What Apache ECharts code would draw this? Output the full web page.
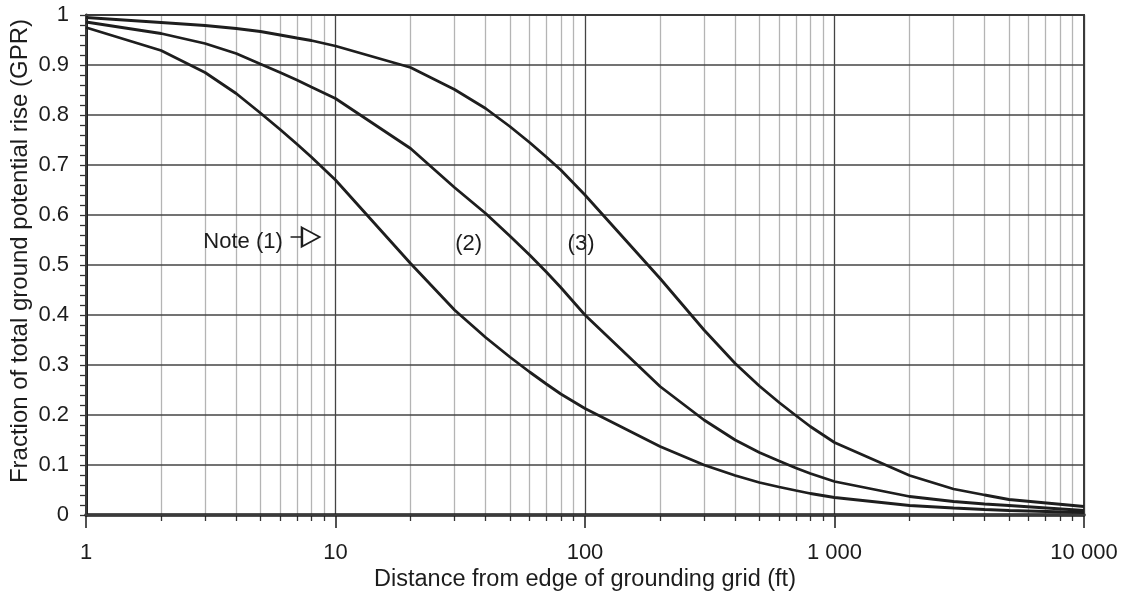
<!DOCTYPE html>
<html>
<head>
<meta charset="utf-8">
<script src="https://cdn.jsdelivr.net/npm/echarts@6/dist/echarts.min.js"></script>
<style>html,body{margin:0;padding:0;background:#fff}#c{width:1122px;height:596px}</style>
</head>
<body>
<div id="c"></div>
<script>
const distances = [1,2,3,4,5,6,7,8,10,20,30,40,50,60,70,80,100,200,300,400,500,600,700,800,1000,2000,3000,4000,5000,10000];
const curve1 = [0.975,0.929,0.885,0.843,0.804,0.771,0.742,0.716,0.670,0.503,0.410,0.355,0.316,0.286,0.262,0.242,0.213,0.137,0.100,0.079,0.065,0.056,0.049,0.043,0.035,0.019,0.014,0.011,0.009,0.005];
const curve2 = [0.986,0.963,0.943,0.923,0.902,0.885,0.870,0.856,0.833,0.733,0.655,0.603,0.558,0.520,0.486,0.455,0.400,0.257,0.190,0.150,0.125,0.108,0.094,0.083,0.067,0.037,0.027,0.022,0.019,0.009];
const curve3 = [0.995,0.985,0.979,0.973,0.967,0.960,0.954,0.949,0.938,0.895,0.851,0.813,0.777,0.745,0.716,0.690,0.640,0.473,0.370,0.303,0.258,0.225,0.199,0.177,0.145,0.079,0.052,0.040,0.031,0.017];
const majorX = [1,10,100,1000,10000];
const minorX = [2,3,4,5,6,7,8,9,20,30,40,50,60,70,80,90,200,300,400,500,600,700,800,900,2000,3000,4000,5000,6000,7000,8000,9000];
const xLabels = {1:'1',10:'10',100:'100',1000:'1 000',10000:'10 000'};
const notes = [
  {text:'Note (1)', x:4.26, y:0.547},
  {text:'(2)', x:34.2, y:0.543},
  {text:'(3)', x:96.4, y:0.543}
];
const arrowPos = [7.55, 0.556];

const FONT = "'Liberation Sans', Arial, Helvetica, sans-serif";
const FS = 22;
const TXT = '#1c1c1c';
const chart = echarts.init(document.getElementById('c'), null, {renderer:'canvas'});
const lineSeries = (d) => ({
  type:'line', xAxisIndex:0, yAxisIndex:0,
  data: distances.map((x,i)=>[x,d[i]]),
  showSymbol:false, symbol:'none', smooth:false,
  lineStyle:{color:'#1e1e1e', width:2.8}, z:5, silent:true
});
chart.setOption({
  animation:false,
  backgroundColor:'#fff',
  textStyle:{fontFamily:FONT},
  grid:{left:86, right:38, top:15, bottom:81, show:true, borderColor:'#3a3a3a', borderWidth:2, z:4,
        containLabel:false, outerBoundsMode:'none'},
  xAxis:[
    {
      type:'log', logBase:10, min:1, max:10000, gridIndex:0,
      name:'Distance from edge of grounding grid (ft)', nameLocation:'middle', nameGap:53, nameMoveOverlap:false,
      nameTextStyle:{fontSize:23.5, color:TXT, fontFamily:FONT},
      axisLine:{show:true, onZero:false, lineStyle:{color:'#1a1a1a', width:3.5}},
      axisTick:{show:true, inside:false, length:13, customValues:majorX, lineStyle:{color:'#1a1a1a', width:1.5}},
      axisLabel:{show:true, margin:27, fontSize:FS, color:TXT, fontFamily:FONT,
        customValues:majorX, formatter:(v)=>xLabels[Math.round(v)] || ''},
      splitLine:{show:true, lineStyle:{color:'#444', width:1.3}},
      z:3
    },
    {
      type:'log', logBase:10, min:1, max:10000, gridIndex:0, position:'bottom',
      axisLine:{show:false},
      axisTick:{show:true, inside:false, length:6, customValues:minorX, lineStyle:{color:'#333', width:1.3}},
      axisLabel:{show:false},
      splitLine:{show:true, lineStyle:{color:'#b4b4b4', width:1.3}},
      z:1
    }
  ],
  yAxis:{
    type:'value', min:0, max:1, interval:0.1,
    name:'Fraction of total ground potential rise (GPR)', nameLocation:'middle', nameGap:54, nameMoveOverlap:false,
    nameTextStyle:{fontSize:24, color:TXT, fontFamily:FONT, padding:[0,0,0,28]},
    axisLine:{show:true, onZero:false, lineStyle:{color:'#1a1a1a', width:3}},
    axisTick:{show:true, inside:false, length:6, lineStyle:{color:'#333', width:1.3}},
    minorTick:{show:true, splitNumber:5, length:6, lineStyle:{color:'#333', width:1.3}},
    axisLabel:{margin:17, fontSize:FS, color:TXT, fontFamily:FONT},
    splitLine:{show:true, lineStyle:{color:'#444', width:1.5}},
    z:2
  },
  series:[
    lineSeries(curve1),
    lineSeries(curve2),
    lineSeries(curve3),
    {
      type:'scatter', xAxisIndex:0, yAxisIndex:0, silent:true, z:6,
      data: notes.map(n=>({value:[n.x,n.y], name:n.text})),
      symbol:'rect', symbolSize:1, itemStyle:{color:'rgba(0,0,0,0)', opacity:1},
      label:{show:true, position:'inside', formatter:(p)=>p.name, fontSize:FS, color:TXT, opacity:1,
             textBorderWidth:0, textBorderColor:'transparent', fontFamily:FONT}
    },
    {
      type:'scatter', xAxisIndex:0, yAxisIndex:0, silent:true, z:6,
      data:[arrowPos],
      symbol:'path://M0 9 L11 9 M11 0 L28 9 L11 18 Z', symbolSize:[29,19], symbolKeepAspect:false,
      itemStyle:{color:'#ffffff', borderColor:'#1e1e1e', borderWidth:2, opacity:1}
    }
  ]
});
</script>
</body>
</html>
